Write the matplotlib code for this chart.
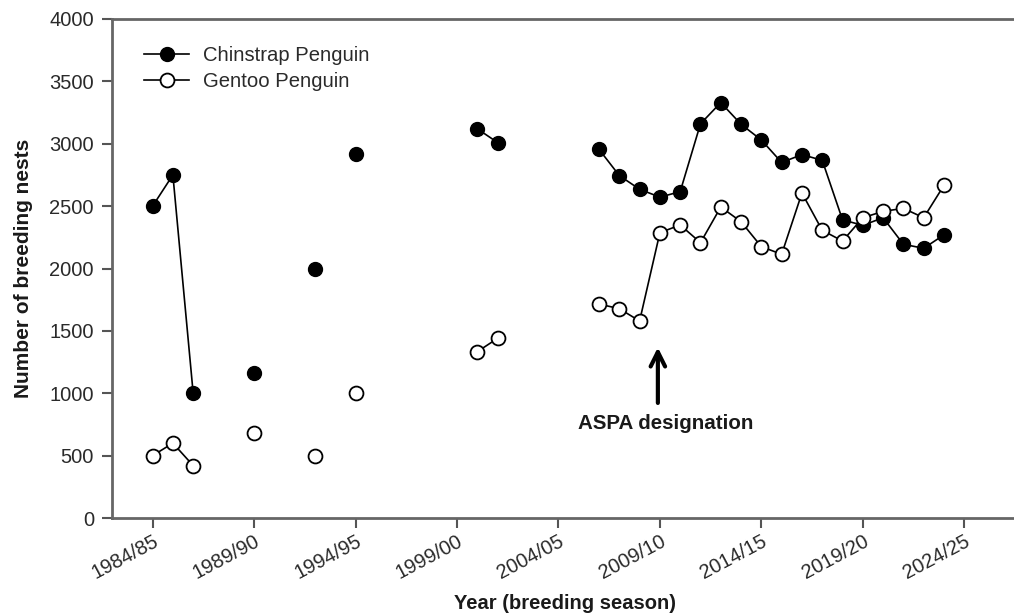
import numpy as np
import matplotlib
matplotlib.use("Agg")
import matplotlib.pyplot as plt

plt.rcParams['font.family'] = ['Liberation Sans', 'DejaVu Sans']

nan = np.nan
years = list(range(1984, 2024))
tick_years = [1984, 1989, 1994, 1999, 2004, 2009, 2014, 2019, 2024]
tick_labels = ['1984/85', '1989/90', '1994/95', '1999/00', '2004/05',
               '2009/10', '2014/15', '2019/20', '2024/25']

# nests per season, nan = no count
chinstrap = [2500, 2750, 1000, nan, nan, 1160, nan, nan, 2000, nan,
             2920, nan, nan, nan, nan, nan, 3120, 3010, nan, nan,
             nan, nan, 2955, 2745, 2635, 2572, 2616, 3160, 3330, 3156,
             3030, 2850, 2913, 2867, 2390, 2346, 2407, 2194, 2162, 2270]
gentoo = [500, 600, 420, nan, nan, 678, nan, nan, 500, nan,
          998, nan, nan, nan, nan, nan, 1333, 1440, nan, nan,
          nan, nan, 1715, 1678, 1579, 2287, 2349, 2207, 2493, 2375,
          2175, 2114, 2605, 2306, 2220, 2407, 2458, 2482, 2407, 2667]

fig = plt.figure(figsize=(10.14, 6.14), dpi=100)
ax = fig.add_axes([112 / 1014, 96 / 614, 902 / 1014, 499 / 614])

ax.plot(years, chinstrap, color='black', lw=1.2, marker='o', ms=10,
        mfc='black', mec='black', label='Chinstrap Penguin')
ax.plot(years, gentoo, color='black', lw=1.2, marker='o', ms=10,
        mfc='white', mec='black', mew=1.3, label='Gentoo Penguin')

ax.set_xlim(1982, 2026.45)
ax.set_ylim(0, 4000)
ax.set_yticks(range(0, 4001, 500))
ax.set_xticks(tick_years)
ax.set_xticklabels(tick_labels, rotation=28, ha='right', rotation_mode='anchor')
ax.tick_params(axis='both', direction='out', length=7, width=1.5,
               color='#555555', labelsize=14.5, labelcolor='#2a2a2a', pad=6)
ax.tick_params(axis='x', pad=3)

for side in ['left', 'bottom', 'top']:
    ax.spines[side].set_color('#666666')
    ax.spines[side].set_linewidth(2)
ax.spines['right'].set_visible(False)

ax.set_xlabel('Year (breeding season)', fontsize=14.5, fontweight='bold',
              color='#1a1a1a', va='top')
ax.xaxis.set_label_coords(0.502, -0.152)
ax.set_ylabel('Number of breeding nests', fontsize=15, fontweight='bold',
              labelpad=12, color='#1a1a1a')

ax.annotate('', xy=(2008.9, 1390), xytext=(2008.9, 900),
            arrowprops=dict(arrowstyle='->', lw=3, color='black',
                            mutation_scale=26))
ax.text(2009.3, 755, 'ASPA designation', fontsize=14.8, fontweight='bold',
        ha='center', va='center', color='#1a1a1a')

leg = ax.legend(loc='upper left', bbox_to_anchor=(0.02, 0.975), frameon=False,
                fontsize=14.6, handlelength=2.2, borderpad=0.2, labelspacing=0.35,
                handletextpad=0.7)
for t in leg.get_texts():
    t.set_color('#2a2a2a')

fig.savefig('out.png', dpi=100)
